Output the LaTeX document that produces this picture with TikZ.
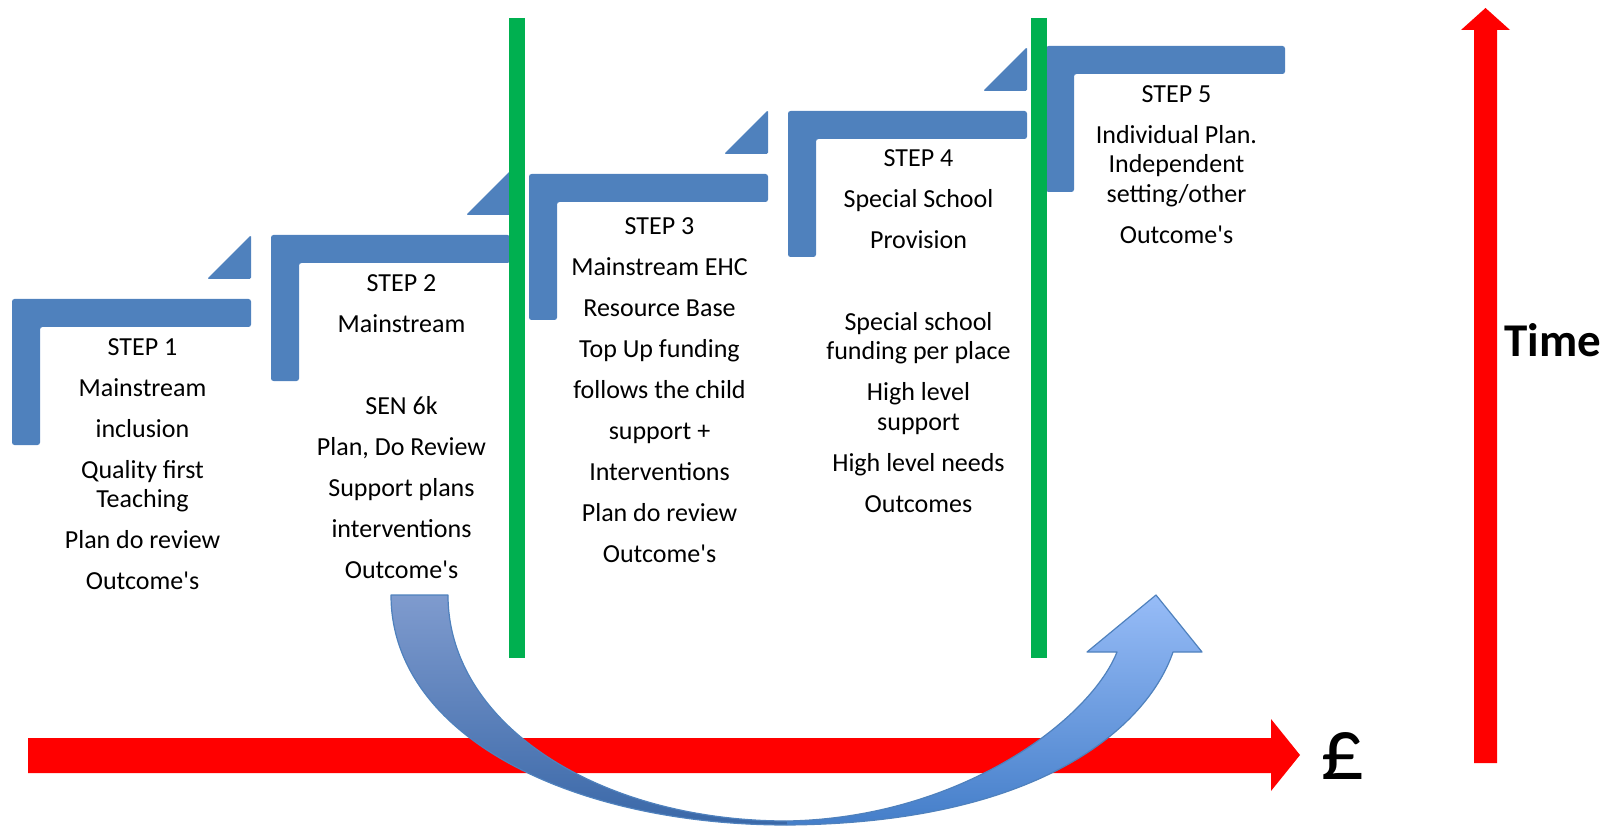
\documentclass[tikz,border=0pt]{standalone}
\usepackage{fontspec}
\setmainfont{Carlito}[Ligatures=TeXOff]
\usepackage{tikz}
\definecolor{stepblue}{RGB}{79,129,189}
\definecolor{linegreen}{RGB}{0,176,80}
\definecolor{curvetop}{RGB}{127,155,206}
\definecolor{curvebot}{RGB}{58,104,168}
\definecolor{headtop}{RGB}{151,188,247}
\definecolor{headbot}{RGB}{68,126,201}
\newcommand{\pgap}{11.3pt}

\begin{document}
\begin{tikzpicture}[x=1pt,y=-1pt,
  steptext/.style={align=center,inner sep=0pt,anchor=north,font=\fontsize{26}{29.7}\selectfont}]
  \useasboundingbox (0,0) rectangle (1607,826);

  % money axis and time axis
  \fill[red] (28,738) -- (1271,738) -- (1271,719) -- (1300,755) -- (1271,791) -- (1271,773) -- (28,773) -- cycle;
  \fill[red] (1474,763) -- (1474,30) -- (1461,30) -- (1485.5,8) -- (1510,30) -- (1497,30) -- (1497,763) -- cycle;
  \node[font=\fontsize{88}{88}\selectfont,inner sep=0pt] (pound) at (1342.5,756.5) {£};
  \node[font=\bfseries\fontsize{47}{47}\selectfont,inner sep=0pt] (time) at (1553,340) {Time};

  \foreach \i/\x/\y in {1/12/299,2/271/235,3/529/174,4/788/111,5/1046/46}{% one stair per step
    \coordinate (s\i) at (\x,\y);
    \fill[stepblue,rounded corners=2.5pt] (s\i) -- ++(239,0) -- ++(0,28) -- ++(-211,0) -- ++(0,118) -- ++(-28,0) -- cycle;
  }
  \foreach \i in {1,...,4}{% small wedge above the stair
    \fill[stepblue,rounded corners=1.5pt] ([shift={(195,-20)}]s\i) -- ++(44,-44) -- ++(0,44) -- cycle;
  }

  \node[steptext] (t1) at ([shift={(130.5,39)}]s1) {STEP 1\\[\pgap]Mainstream\\[\pgap]inclusion\\[\pgap]Quality first\\Teaching\\[\pgap]Plan do review\\[\pgap]Outcome's};
  \node[steptext] (t2) at ([shift={(130.5,39)}]s2) {STEP 2\\[\pgap]Mainstream\\[\pgap]\mbox{}\\[\pgap]SEN 6k\\[\pgap]Plan, Do Review\\[\pgap]Support plans\\[\pgap]interventions\\[\pgap]Outcome's};
  \node[steptext] (t3) at ([shift={(130.5,43)}]s3) {STEP 3\\[\pgap]Mainstream EHC\\[\pgap]Resource Base\\[\pgap]Top Up funding\\[\pgap]follows the child\\[\pgap]support +\\[\pgap]Interventions\\[\pgap]Plan do review\\[\pgap]Outcome's};
  \node[steptext] (t4) at ([shift={(130.5,38)}]s4) {STEP 4\\[\pgap]Special School\\[\pgap]Provision\\[\pgap]\mbox{}\\[\pgap]Special school\\funding per place\\[\pgap]High level\\support\\[\pgap]High level needs\\[\pgap]Outcomes};
  \node[steptext] (t5) at ([shift={(130.5,39)}]s5) {STEP 5\\[\pgap]Individual Plan.\\Independent\\setting/other\\[\pgap]Outcome's};

  % green dividers
  \foreach \x in {517,1039}{
    \draw[linegreen,line width=16pt] (\x,18) -- (\x,658);
  }

  % curved arrow under the axis line
  \shade[top color=curvetop,bottom color=curvebot] (391,595) -- (448,595) .. controls (448,725) and (600,821) .. (787,821) -- (787,825) .. controls (570,825) and (391,735) .. cycle;
  \shade[top color=headtop,bottom color=headbot] (787,821) .. controls (960,818) and (1090,720) .. (1117,652) -- (1087,652) -- (1156,595) -- (1202,652) -- (1173,652) .. controls (1150,720) and (1050,823) .. (787,825) -- cycle;
  \draw[stepblue,line width=1.2pt,line join=round] (391,595) -- (448,595) .. controls (448,725) and (600,821) .. (787,821) .. controls (960,818) and (1090,720) .. (1117,652) -- (1087,652) -- (1156,595) -- (1202,652) -- (1173,652) .. controls (1150,720) and (1050,823) .. (787,825) .. controls (570,825) and (391,735) .. cycle;
\end{tikzpicture}
\end{document}
